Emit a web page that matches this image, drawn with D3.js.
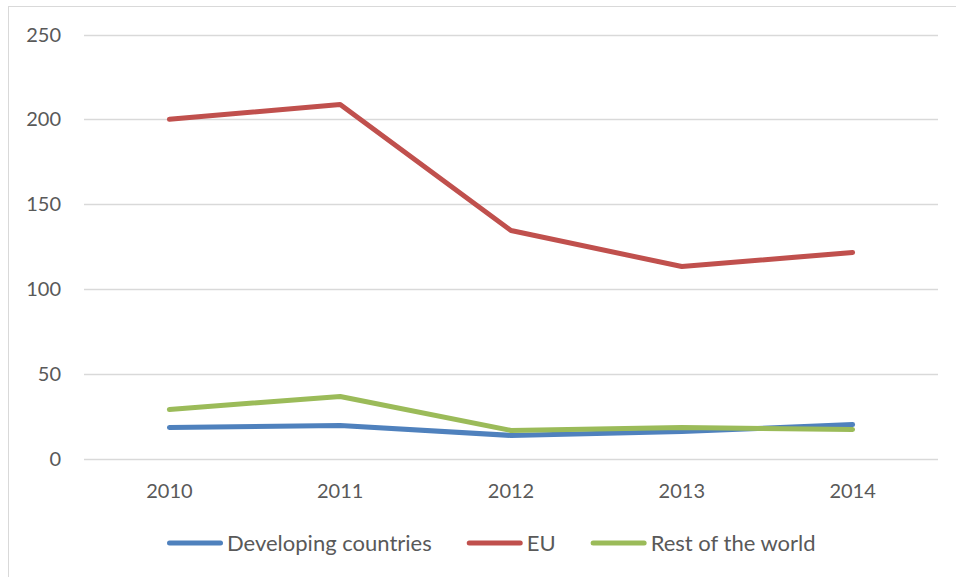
<!DOCTYPE html>
<html>
<head>
<meta charset="utf-8">
<script src="https://cdn.jsdelivr.net/npm/d3@7"></script>
<style>
  body { margin: 0; background: #fff; }
  text { font-family: Lato, "Open Sans", sans-serif; fill: #595959; }
</style>
</head>
<body>
<script>
var years = ["2010", "2011", "2012", "2013", "2014"];
var seriesNames = ["Developing countries", "EU", "Rest of the world"];
var developing = [18.3, 19.5, 13.6, 15.9, 20.0];
var eu = [200, 208.7, 134.4, 113.2, 121.5];
var restOfWorld = [28.9, 36.6, 16.5, 18.3, 17.1];
var yTicks = [0, 50, 100, 150, 200, 250];

var width = 956, height = 577;
var colors = ["#4F81BD", "#C0504D", "#9BBB59"];
var allSeries = [developing, eu, restOfWorld];

var svg = d3.select("body").append("svg").attr("width", width).attr("height", height);

// chart border
svg.append("rect").attr("x", 8.5).attr("y", 6.5).attr("width", 960).attr("height", 580)
    .attr("fill", "none").attr("stroke", "#D9D9D9").attr("stroke-width", 1);

var x = d3.scaleBand().domain(years).range([84, 938]).padding(0);
var y = d3.scaleLinear().domain([0, 250]).range([458.5, 34.5]);

// gridlines
svg.append("g").selectAll("line").data(yTicks).enter().append("line")
    .attr("x1", 84).attr("x2", 938)
    .attr("y1", function (d) { return Math.round(y(d)) + 0.5; })
    .attr("y2", function (d) { return Math.round(y(d)) + 0.5; })
    .attr("stroke", "#D9D9D9").attr("stroke-width", 1.5);

// y labels
svg.append("g").selectAll("text").data(yTicks).enter().append("text")
    .attr("x", 61).attr("y", function (d) { return y(d); })
    .attr("dy", "0.35em").attr("text-anchor", "end")
    .style("font-size", "20px")
    .text(function (d) { return d; });

// x labels
svg.append("g").selectAll("text").data(years).enter().append("text")
    .attr("x", function (d) { return x(d) + x.bandwidth() / 2; })
    .attr("y", 491).attr("dy", "0.35em").attr("text-anchor", "middle")
    .style("font-size", "20px")
    .text(function (d) { return d; });

// lines
var line = d3.line()
    .x(function (d, i) { return x(years[i]) + x.bandwidth() / 2; })
    .y(function (d) { return y(d); });

for (var i = 0; i < allSeries.length; i++) {
    svg.append("path").datum(allSeries[i])
        .attr("fill", "none")
        .attr("stroke", colors[i])
        .attr("stroke-width", 5)
        .attr("stroke-linecap", "round")
        .attr("stroke-linejoin", "round")
        .attr("d", line);
}

// legend
var legend = svg.append("g");
var lx = 167, ly = 543;
for (var i = 0; i < seriesNames.length; i++) {
    legend.append("line")
        .attr("x1", lx + 2.5).attr("x2", lx + 53.5).attr("y1", ly).attr("y2", ly)
        .attr("stroke", colors[i]).attr("stroke-width", 5).attr("stroke-linecap", "round");
    var t = legend.append("text")
        .attr("x", lx + 60).attr("y", ly).attr("dy", "0.35em")
        .style("font-size", "22px")
        .text(seriesNames[i]);
    lx = lx + 60 + t.node().getComputedTextLength() + 35;
}
</script>
</body>
</html>
